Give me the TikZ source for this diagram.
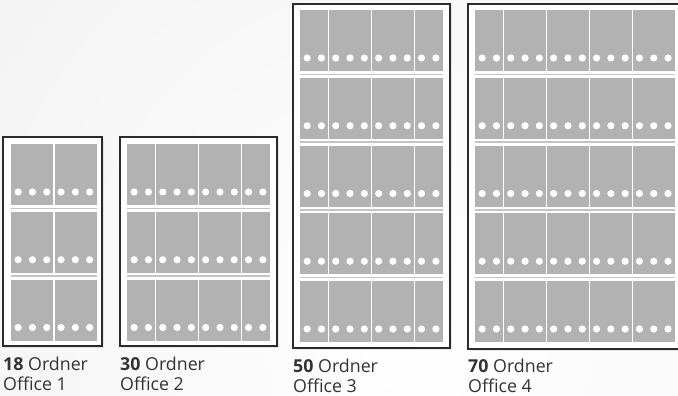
\documentclass[tikz,border=0pt]{standalone}
\usepackage{fontspec}
\setmainfont{Open Sans}
\definecolor{panel}{HTML}{B2B2B2}
\definecolor{sepc}{HTML}{C4C4C4}
\definecolor{framec}{HTML}{2B2B2B}
\definecolor{bgc}{HTML}{ECECEC}
\definecolor{txt}{HTML}{333333}
\tikzset{
  frame/.style={draw=framec,line width=1.2pt,fill=white},
  shadowbox/.style={fill=black,opacity=0.08},
  label/.style={anchor=base west,inner sep=0pt,text=txt,font=\fontsize{17.8}{20}\selectfont},
}
\newcommand\fw{14.3}
% #1 x0, #2 y0, #3 rows, #4 folders, #5 divider list
\newcommand\drawcab[5]{%
  \foreach \r in {1,...,#3}{%
    \pgfmathsetmacro\ry{#2+(\r-1)*67.75}%
    \fill[panel] (#1,\ry) rectangle ({#1+#4*\fw},{\ry+61});
    \foreach \d in {1,...,#4}{\fill[white] ({#1+(\d-0.5)*\fw},{\ry+48}) circle[radius=3.6pt];}
    \foreach \c in {#5}{\draw[white,line width=1.2pt] ({#1+\c*\fw},\ry) -- ++(0,61);}
    \ifnum\r<#3
      \draw[sepc,line width=1.4pt] (#1,{\ry+64.4}) -- ({#1+#4*\fw},{\ry+64.4});
    \fi
  }%
}
\begin{document}
\begin{tikzpicture}[x=1pt,y=-1pt]
\useasboundingbox (0,0) rectangle (678,396);
\clip (0,0) rectangle (678,396);
\fill[bgc] (0,0) rectangle (678,396);
\shade[inner color=white,outer color=bgc] (430,330) circle[radius=900pt];
% shadows
\fill[shadowbox] (4.5,138.5) rectangle (103.5,347.5);
\fill[shadowbox] (121.5,138.5) rectangle (278.5,347.5);
\fill[shadowbox] (294.5,5.5) rectangle (451.5,349.5);
\fill[shadowbox] (469.5,5.5) rectangle (692,350.5);
% frames
\draw[frame] (3,137) rectangle (102,346);
\draw[frame] (120,137) rectangle (277,346);
\draw[frame] (293,4) rectangle (450,348);
\draw[frame] (468,4) rectangle (690,349);
% contents
\drawcab{11}{144}{3}{6}{3}
\drawcab{127}{144}{3}{10}{2,5,8}
\drawcab{300}{10}{5}{10}{2,5,8}
\drawcab{475}{10}{5}{14}{2,5,8,11}
% labels
\node[label] (a1) at (3,370) {\textbf{18} Ordner};
\node[label] (b1) at (3,390) {Office 1};
\node[label] (a2) at (120,370) {\textbf{30} Ordner};
\node[label] (b2) at (120,390) {Office 2};
\node[label] (a3) at (293,372) {\textbf{50} Ordner};
\node[label] (b3) at (293,392) {Office 3};
\node[label] (a4) at (468,372) {\textbf{70} Ordner};
\node[label] (b4) at (468,392) {Office 4};
\end{tikzpicture}
\end{document}
